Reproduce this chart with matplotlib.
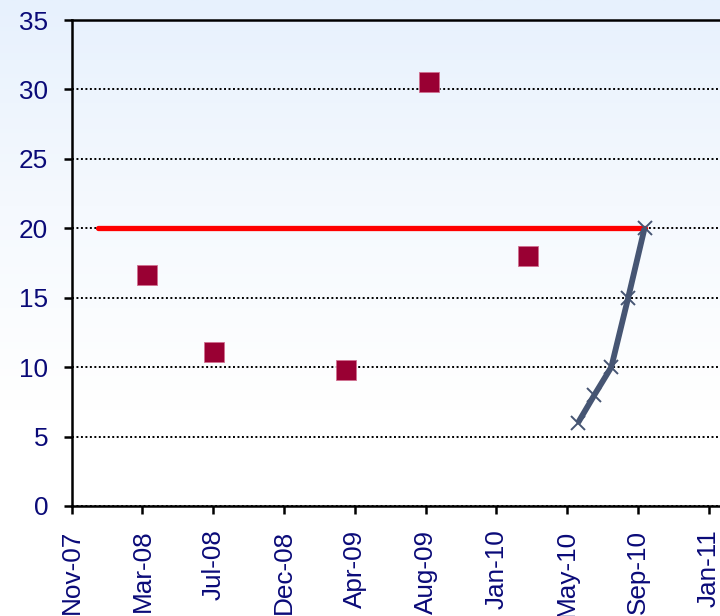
import numpy as np
import pandas as pd
import matplotlib
matplotlib.use('Agg')
import matplotlib.pyplot as plt
import matplotlib.dates as mdates
from matplotlib.colors import LinearSegmentedColormap

# ── Data ─────────────────────────────────────────────────────
point_dates = pd.to_datetime(['2008-03-31', '2008-07-31', '2009-03-31',
                              '2009-08-31', '2010-02-28'])
point_values = [16.6, 11.1, 9.8, 30.5, 18.0]

target_dates = pd.to_datetime(['2007-12-31', '2010-09-30'])
target_values = [20, 20]

track_dates = pd.to_datetime(['2010-05-31', '2010-06-30', '2010-07-31',
                              '2010-08-31', '2010-09-30'])
track_values = [6, 8, 10, 15, 20]

axis_start = pd.Timestamp('2007-11-13')
tick_step_days = 130
n_ticks = 10
y_ticks = [0, 5, 10, 15, 20, 25, 30, 35]

# ── Colors ───────────────────────────────────────────────────
NAVY_TEXT = '#0a0a78'
MAROON = '#990033'
RED = '#ff0000'
SLATE = '#465573'

plt.rcParams['font.family'] = ['Liberation Sans', 'DejaVu Sans']

fig = plt.figure(figsize=(7.2, 6.16), dpi=100)

# soft blue-to-white backdrop over the whole figure
bg = fig.add_axes([0, 0, 1, 1], zorder=0)
cmap = LinearSegmentedColormap.from_list('bg', ['#e7f1fd', '#f5f9fe', '#ffffff', '#ffffff'])
bg.imshow(np.linspace(0, 1, 256).reshape(-1, 1), aspect='auto', cmap=cmap,
          extent=[0, 1, 0, 1])
bg.axis('off')

ax = fig.add_axes([0.0996, 0.1787, 0.9004, 0.7888], zorder=1)
ax.set_facecolor('none')

tick_dates = [axis_start + pd.Timedelta(days=tick_step_days * k) for k in range(n_ticks)]
x_right = axis_start + pd.Timedelta(days=1190.6)

ax.plot(target_dates, target_values, color=RED, lw=3.8, solid_capstyle='round', zorder=3)
ax.plot(track_dates, track_values, color=SLATE, lw=4.2, marker='x', markersize=10,
        markeredgewidth=1.4, solid_capstyle='butt', zorder=4)
ax.plot(point_dates, point_values, linestyle='none', marker='s', markersize=14.5,
        markerfacecolor=MAROON, markeredgecolor='#d07090', markeredgewidth=0.6, zorder=5)

ax.set_xlim(axis_start, x_right)
ax.set_ylim(0, 35)
ax.set_yticks(y_ticks)
ax.set_xticks(tick_dates)
ax.xaxis.set_major_formatter(mdates.DateFormatter('%b-%y'))

for lbl in ax.get_xticklabels():
    lbl.set_rotation(90)

ax.yaxis.grid(True, color='black', linestyle=(0, (1, 1.3)), lw=1.4)
ax.set_axisbelow(True)

for side in ['left', 'bottom', 'top']:
    ax.spines[side].set_color('black')
    ax.spines[side].set_linewidth(1.8)
ax.spines['right'].set_visible(False)

ax.tick_params(axis='both', direction='out', length=6, width=1.8, color='black',
               labelsize=18.8, labelcolor=NAVY_TEXT)
ax.tick_params(axis='y', pad=11)
ax.tick_params(axis='x', pad=11)

fig.savefig('out.png', dpi=100)
